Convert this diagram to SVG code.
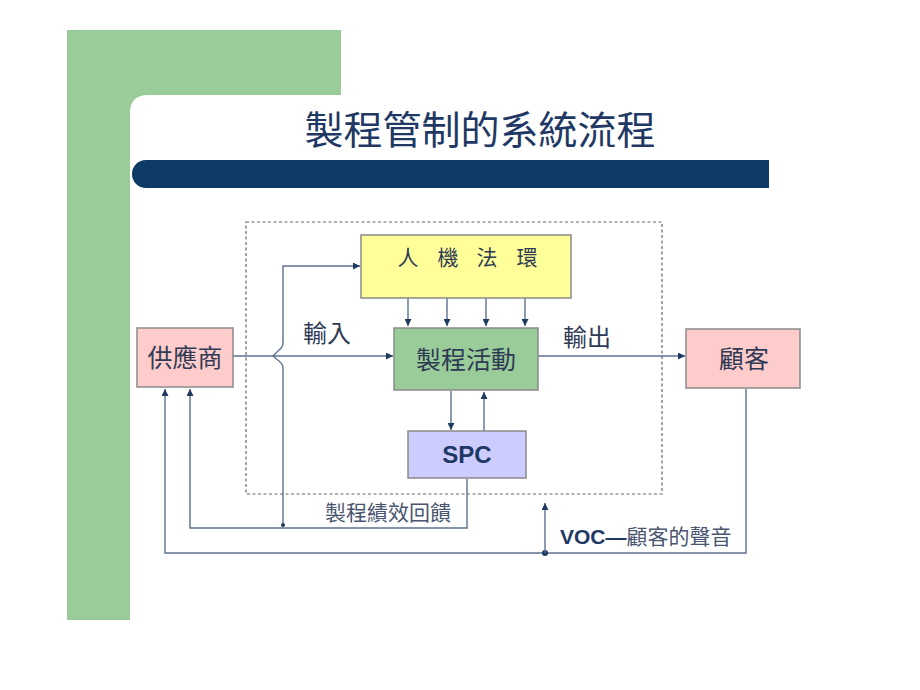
<svg xmlns="http://www.w3.org/2000/svg" width="920" height="690" viewBox="0 0 920 690">
<defs>
<marker id="ah" viewBox="0 0 10 10" refX="10" refY="5" markerWidth="7" markerHeight="7" orient="auto" markerUnits="userSpaceOnUse">
<path d="M0,0 L10,5 L0,10 Z" fill="#1f3a5f"/>
</marker>
<style>
.ln{fill:none;stroke:#5d7190;stroke-width:1.4}
.box{stroke:#8a8a8a;stroke-width:1.5}
.cjk{font-family:"Noto Sans CJK TC","Noto Sans CJK SC",sans-serif;fill:#2f3b55}
.lat{font-family:"Liberation Sans",Arial,sans-serif;font-weight:bold;fill:#1f3864}
</style>
</defs>
<rect width="920" height="690" fill="#ffffff"/>
<!-- background decoration -->
<path d="M67,30 H341 V95 H148 Q130,95 130,113 V620 H67 Z" fill="#99cc99"/>
<text x="480" y="144" text-anchor="middle" font-size="39" class="cjk" style="fill:#1f3864">製程管制的系統流程</text>
<path d="M146,160 H769 V188 H146 A14,14 0 0 1 146,160 Z" fill="#0e3a66"/>
<!-- dashed boundary -->
<rect x="246" y="222" width="416" height="272" fill="none" stroke="#666" stroke-width="1.2" stroke-dasharray="3,2.5"/>
<g id="connectors">
<path class="ln" d="M408,279 V326" marker-end="url(#ah)"/>
<path class="ln" d="M447,279 V326" marker-end="url(#ah)"/>
<path class="ln" d="M486,279 V326" marker-end="url(#ah)"/>
<path class="ln" d="M525,279 V326" marker-end="url(#ah)"/>
<path class="ln" d="M233,356 H393" marker-end="url(#ah)"/>
<path class="ln" d="M283,527 V368 Q283,364 279,361 L273,356 L279,350 Q283,347 283,343 V266 H360" marker-end="url(#ah)"/>
<circle cx="283" cy="525" r="2" fill="#1f3a5f"/>
<path class="ln" d="M538,356 H685" marker-end="url(#ah)"/>
<path class="ln" d="M451,391 V430" marker-end="url(#ah)"/>
<path class="ln" d="M484,431 V392" marker-end="url(#ah)"/>
<path class="ln" d="M467,479 V528 H190 V389" marker-end="url(#ah)"/>
<path class="ln" d="M746,389 V553 H165 V389" marker-end="url(#ah)"/>
<circle cx="545" cy="553" r="3" fill="#1f3a5f"/>
<path class="ln" d="M545,553 V503" marker-end="url(#ah)"/>
</g>
<g id="n-env">
<rect class="box" x="361" y="235" width="210" height="63" fill="#ffff99"/>
<text x="408" y="265" text-anchor="middle" font-size="21" class="cjk">人</text>
<text x="448" y="265" text-anchor="middle" font-size="21" class="cjk">機</text>
<text x="487" y="265" text-anchor="middle" font-size="21" class="cjk">法</text>
<text x="527" y="265" text-anchor="middle" font-size="21" class="cjk">環</text>
</g>
<g id="n-process">
<rect class="box" x="394" y="328" width="144" height="62" fill="#99cc99"/>
<text x="466" y="369" text-anchor="middle" font-size="25" class="cjk">製程活動</text>
</g>
<g id="n-supplier">
<rect class="box" x="137" y="328" width="96" height="59" fill="#ffcccc"/>
<text x="185" y="367" text-anchor="middle" font-size="25" class="cjk">供應商</text>
</g>
<g id="n-customer">
<rect class="box" x="686" y="329" width="114" height="59" fill="#ffcccc"/>
<text x="744" y="368" text-anchor="middle" font-size="25" class="cjk">顧客</text>
</g>
<g id="n-spc">
<rect class="box" x="408" y="431" width="118" height="47" fill="#ccccff"/>
<text x="467" y="463" text-anchor="middle" font-size="24" class="lat">SPC</text>
</g>
<g id="labels">
<text x="303" y="342" font-size="24" class="cjk">輸入</text>
<text x="563" y="346" font-size="24" class="cjk">輸出</text>
<text x="325" y="520" font-size="21" class="cjk" style="fill:#4a5670">製程績效回饋</text>
<text x="560" y="544" font-size="21"><tspan class="lat">VOC—</tspan><tspan class="cjk" style="fill:#4a5670">顧客的聲音</tspan></text>
</g>
</svg>
